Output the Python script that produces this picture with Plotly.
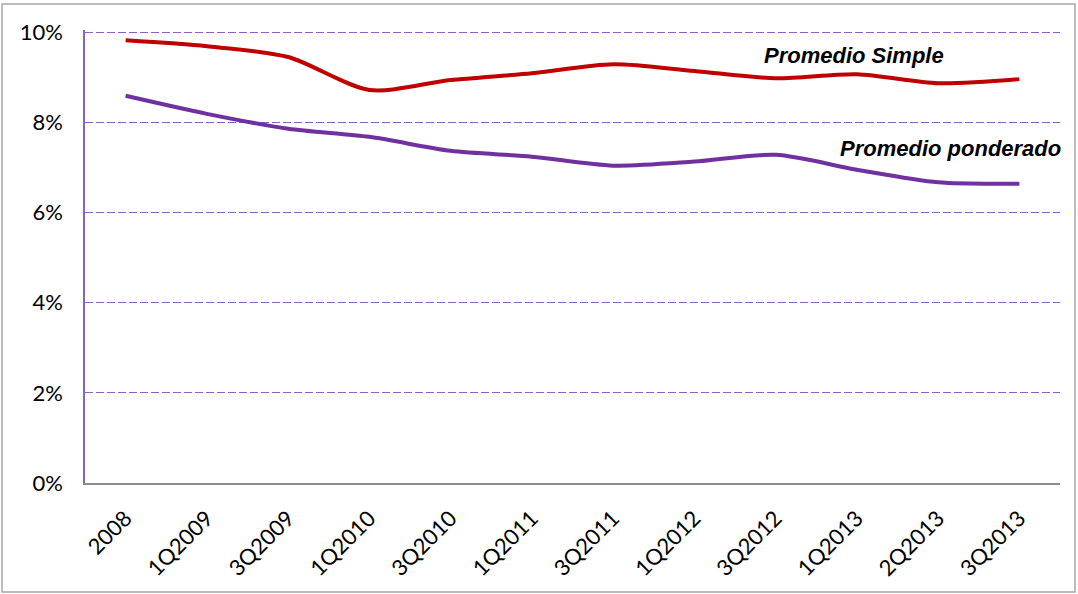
import plotly.graph_objects as go

categories = ["2008", "1Q2009", "3Q2009", "1Q2010", "3Q2010", "1Q2011",
              "3Q2011", "1Q2012", "3Q2012", "1Q2013", "2Q2013", "3Q2013"]
promedio_simple = [9.82, 9.69, 9.45, 8.72, 8.94, 9.09, 9.29, 9.14, 8.98, 9.07, 8.87, 8.96]
promedio_ponderado = [8.59, 8.19, 7.86, 7.68, 7.37, 7.24, 7.04, 7.13, 7.28, 6.95, 6.67, 6.64]
y_ticks = [0, 2, 4, 6, 8, 10]
y_tick_labels = ["0%", "2%", "4%", "6%", "8%", "10%"]

W, H = 1078, 594
L, R, T, B = 85, 18, 30, 111

fig = go.Figure()
fig.add_trace(go.Scatter(x=categories, y=promedio_simple, mode="lines",
                         line=dict(color="#C00000", width=4, shape="spline", smoothing=0.8),
                         name="Promedio Simple"))
fig.add_trace(go.Scatter(x=categories, y=promedio_ponderado, mode="lines",
                         line=dict(color="#7030A0", width=4, shape="spline", smoothing=0.8),
                         name="Promedio ponderado"))

fig.add_annotation(x=8.96, y=9.49, text="<b><i>Promedio Simple</i></b>", showarrow=False,
                   font=dict(family="Liberation Sans", size=22, color="#000000"))
fig.add_annotation(x=10.15, y=7.42, text="<b><i>Promedio ponderado</i></b>", showarrow=False,
                   font=dict(family="Liberation Sans", size=22, color="#000000"))

pw, ph = W - L - R, H - T - B
fig.add_shape(type="rect", xref="paper", yref="paper",
              x0=(2 - L) / pw, x1=(1075 - L) / pw,
              y0=((H - B) - 592) / ph, y1=((H - B) - 4) / ph,
              line=dict(color="#A6A6A6", width=1.5), fillcolor="rgba(0,0,0,0)", layer="below")

fig.update_layout(
    width=W, height=H, margin=dict(l=L, r=R, t=T, b=B, autoexpand=False),
    paper_bgcolor="white", plot_bgcolor="white", showlegend=False,
    font=dict(family="Lato", size=22, color="#000000"),
)
fig.update_xaxes(type="category", range=[-0.5, 11.5], tickangle=-45, automargin=False,
                 showline=True, linecolor="#8C8C8C", linewidth=1.5,
                 showgrid=False, ticks="", tickfont=dict(family="Lato", size=22),
                 ticklabelstandoff=12)
fig.update_yaxes(range=[0, 10.05], tickvals=y_ticks, ticktext=y_tick_labels, automargin=False,
                 showline=True, linecolor="#8B5FC8", linewidth=1.5,
                 showgrid=True, gridcolor="#8B5FC8", gridwidth=1, griddash="8px,3px",
                 zeroline=False, ticks="", ticklabelstandoff=16,
                 tickfont=dict(family="Lato", size=22))

fig.write_html("out.html", config={"displayModeBar": False},
               post_script="document.body.style.margin='0';document.body.style.overflow='hidden';")
